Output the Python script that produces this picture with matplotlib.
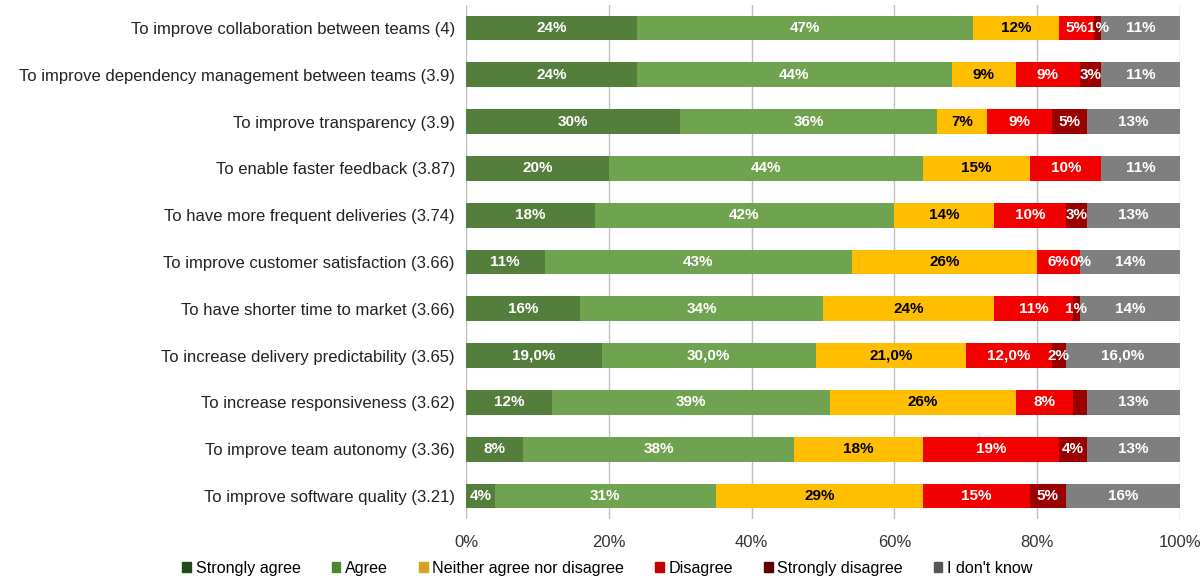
import matplotlib.pyplot as plt
from matplotlib import font_manager
from matplotlib.patches import Patch

# survey items, listed top to bottom
items = ['To improve collaboration between teams (4)',
         'To improve dependency management between teams (3.9)',
         'To improve transparency (3.9)',
         'To enable faster feedback (3.87)',
         'To have more frequent deliveries (3.74)',
         'To improve customer satisfaction (3.66)',
         'To have shorter time to market (3.66)',
         'To increase delivery predictability (3.65)',
         'To increase responsiveness (3.62)',
         'To improve team autonomy (3.36)',
         'To improve software quality (3.21)']

answers = ['Strongly agree', 'Agree', 'Neither agree nor disagree',
           'Disagree', 'Strongly disagree', "I don't know"]

strongly_agree = [24, 24, 30, 20, 18, 11, 16, 19, 12, 8, 4]
agree = [47, 44, 36, 44, 42, 43, 34, 30, 39, 38, 31]
neutral = [12, 9, 7, 15, 14, 26, 24, 21, 26, 18, 29]
disagree = [5, 9, 9, 10, 10, 6, 11, 12, 8, 19, 15]
strongly_disagree = [1, 3, 5, 0, 3, 0, 1, 2, 2, 4, 5]
dont_know = [11, 11, 13, 11, 13, 14, 14, 16, 13, 13, 16]

colors = ['#547e3b', '#70a34f', '#ffbf00', '#f20000', '#9a0000', '#7f7f7f']
legend_colors = ['#1f4a1a', '#4b8a2c', '#d6a21e', '#c40000', '#5e0000', '#555555']
text_colors = ['white', 'white', 'black', 'white', 'white', 'white']

# cells without a data label, and cells written with one decimal
hidden = {(3, 4), (8, 4)}
decimal = {(7, 0), (7, 1), (7, 2), (7, 3), (7, 5)}

series = [strongly_agree, agree, neutral, disagree, strongly_disagree, dont_know]

plt.rcParams['font.family'] = 'Liberation Sans'
fig = plt.figure(figsize=(12.03, 5.8), dpi=100)
ax = fig.add_axes([0.3874, 0.1045, 0.5935, 0.8875])

y = list(range(len(items)))[::-1]
left = [0] * len(items)
for k, vals in enumerate(series):
    ax.barh(y, vals, left=left, height=0.53, color=colors[k], label=answers[k], zorder=2)
    for i, v in enumerate(vals):
        if (i, k) in hidden:
            continue
        txt = '{:.1f}%'.format(v).replace('.', ',') if (i, k) in decimal else '{}%'.format(v)
        ax.text(left[i] + v / 2, y[i], txt, ha='center', va='center', color=text_colors[k],
                fontsize=11, fontweight='bold', zorder=3)
    left = [a + b for a, b in zip(left, vals)]

ax.set_xlim(0, 100)
ax.set_ylim(-0.5, len(items) - 0.5)
ax.set_xticks([0, 20, 40, 60, 80, 100])
ax.set_xticklabels(['0%', '20%', '40%', '60%', '80%', '100%'], fontsize=12, color='#333333')
ax.set_yticks(y)
ax.set_yticklabels(items, fontsize=12, color='#222222')
ax.tick_params(axis='x', length=0, pad=11)
ax.tick_params(axis='y', length=0, pad=8)
ax.grid(axis='x', color='#bfbfbf', linewidth=1, zorder=0)
for s in ax.spines.values():
    s.set_visible(False)

handles = [Patch(color=c, label=a) for c, a in zip(legend_colors, answers)]
fig.legend(handles=handles, loc='lower center', ncol=6, frameon=False, fontsize=11.6,
           handlelength=0.55, handleheight=0.55, handletextpad=0.3, columnspacing=1.9,
           bbox_to_anchor=(0.505, -0.018))

fig.savefig('out.png', dpi=100)
